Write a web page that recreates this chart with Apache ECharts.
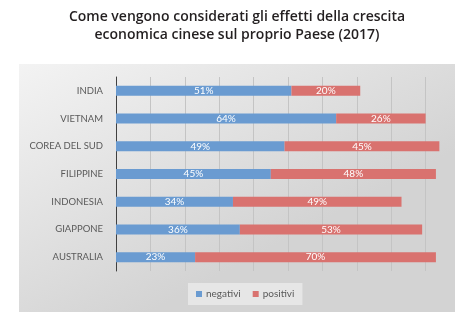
<!DOCTYPE html>
<html>
<head>
<meta charset="utf-8">
<script src="https://cdn.jsdelivr.net/npm/echarts@6/dist/echarts.min.js"></script>
<style>html,body{margin:0;padding:0;background:#fff}#c{width:460px;height:323px}</style>
</head>
<body>
<div id="c"></div>
<script>
var categories = ['INDIA', 'VIETNAM', 'COREA DEL SUD', 'FILIPPINE', 'INDONESIA', 'GIAPPONE', 'AUSTRALIA'];
var negativi = [51, 64, 49, 45, 34, 36, 23];
var positivi = [20, 26, 45, 48, 49, 53, 70];
var xTicks = [0, 10, 20, 30, 40, 50, 60, 70, 80, 90, 100];

var chart = echarts.init(document.getElementById('c'), null, {renderer: 'canvas'});
var font = 'Lato, "Open Sans", sans-serif';
chart.setOption({
  animation: false,
  graphic: [
    {type: 'rect', z: -10, silent: true, shape: {x: 19, y: 64, width: 436, height: 248},
     style: {fill: new echarts.graphic.LinearGradient(0, 0, 0.3, 1, [
       {offset: 0, color: '#f3f3f3'}, {offset: 1, color: '#d3d3d3'}])}},
    {type: 'text', x: 237, y: 8, z: 10, silent: true,
     style: {text: 'Come vengono considerati gli effetti della crescita\neconomica cinese sul proprio Paese (2017)',
       font: '600 14px "Open Sans", sans-serif', fill: '#231f20', align: 'center', textAlign: 'center', lineHeight: 18}}
  ],
  grid: {left: 116, top: 77, width: 345, height: 194, containLabel: false},
  legend: {
    data: ['negativi', 'positivi'], left: 188, top: 283, itemWidth: 6, itemHeight: 6, itemGap: 12,
    padding: [6, 8], backgroundColor: '#e6e6e6', icon: 'rect',
    textStyle: {color: '#595959', fontSize: 10, fontFamily: font, padding: [0, 0, 0, -1]}
  },
  xAxis: {
    type: 'value', min: xTicks[0], max: xTicks[xTicks.length - 1], interval: 10,
    axisLine: {show: false}, axisTick: {show: false}, axisLabel: {show: false},
    splitLine: {show: true, lineStyle: {color: '#c4c4c4', width: 1}}
  },
  yAxis: {
    type: 'category', data: categories, inverse: true,
    axisLine: {show: true, lineStyle: {color: '#404040', width: 1}},
    axisTick: {show: false},
    axisLabel: {color: '#595959', fontSize: 9.5, fontFamily: font, margin: 13}
  },
  series: [
    {name: 'negativi', type: 'bar', stack: 't', data: negativi, barWidth: 10,
     itemStyle: {color: '#6a9bd1'},
     label: {show: true, position: 'inside', formatter: '{c}%', color: '#fff', fontSize: 10, fontFamily: font}},
    {name: 'positivi', type: 'bar', stack: 't', data: positivi, barWidth: 10,
     itemStyle: {color: '#d9726f'},
     label: {show: true, position: 'inside', formatter: '{c}%', color: '#fff', fontSize: 10, fontFamily: font}}
  ]
});
</script>
</body>
</html>
